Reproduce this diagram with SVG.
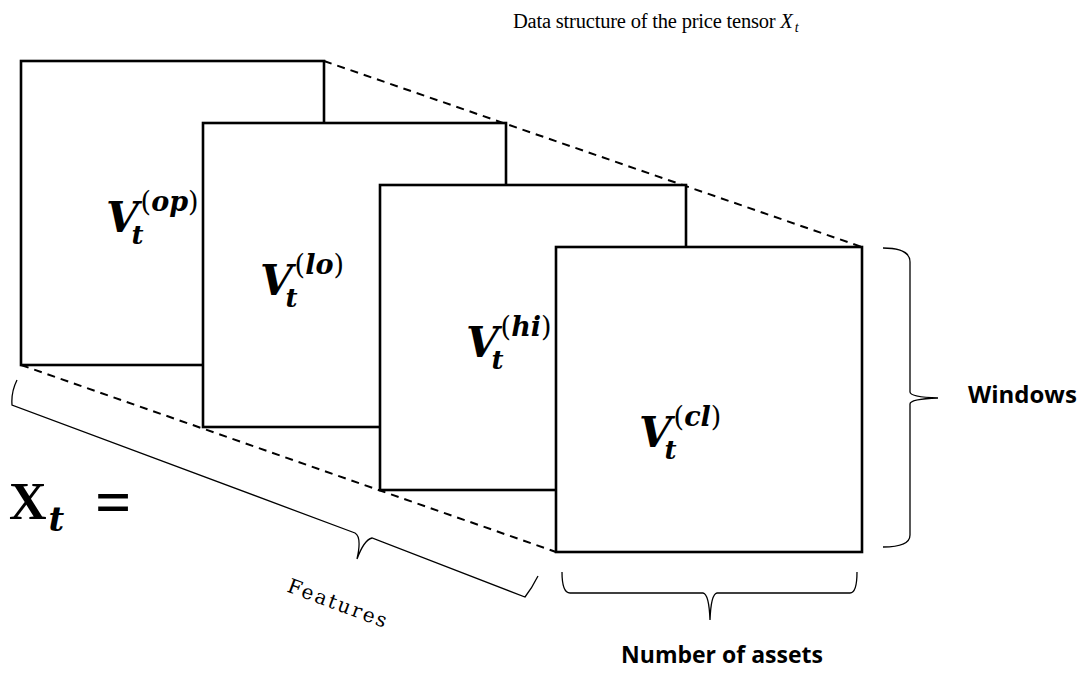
<svg xmlns="http://www.w3.org/2000/svg" width="1086" height="680" viewBox="0 0 1086 680">
<style>
.panel{fill:#fff;stroke:#000;stroke-width:2.6}
.dash{fill:none;stroke:#000;stroke-width:2;stroke-dasharray:8 6}
.brace{fill:none;stroke:#000;stroke-width:1.3}
.vm{font-family:"DejaVu Serif","Liberation Serif",serif;font-weight:bold;font-style:italic;fill:#000}
.par{font-style:normal;font-weight:normal}
.lbl{font-family:"Open Sans","Liberation Sans",sans-serif;font-weight:bold;fill:#000}
</style>
<rect width="1086" height="680" fill="#fff"/>
<text x="513" y="28" font-family="Liberation Serif, serif" font-size="20.5" letter-spacing="-0.2" fill="#000">Data structure of the price tensor <tspan font-style="italic">X</tspan><tspan font-style="italic" font-size="14" dx="2" dy="4">t</tspan></text>
<g id="connectors">
<line class="dash" x1="324" y1="61" x2="862" y2="247"/>
<line class="dash" x1="21" y1="61" x2="556" y2="247"/>
<line class="dash" x1="21" y1="365" x2="556" y2="552"/>
</g>
<g id="panel-op">
<rect class="panel" x="21" y="61" width="303" height="304"/>
<text class="vm" x="106" y="232" font-size="42">V<tspan font-size="26" dx="-7" dy="12">t</tspan><tspan font-size="27" dx="-3" dy="-33"><tspan class="par">(</tspan>op<tspan class="par">)</tspan></tspan></text>
</g>
<g id="panel-lo">
<rect class="panel" x="203" y="123" width="303" height="304"/>
<text class="vm" x="260" y="295" font-size="42">V<tspan font-size="26" dx="-7" dy="12">t</tspan><tspan font-size="27" dx="-3" dy="-33"><tspan class="par">(</tspan>lo<tspan class="par">)</tspan></tspan></text>
</g>
<g id="panel-hi">
<rect class="panel" x="380" y="185" width="306" height="305"/>
<text class="vm" x="466" y="357" font-size="42">V<tspan font-size="26" dx="-7" dy="12">t</tspan><tspan font-size="27" dx="-3" dy="-33"><tspan class="par">(</tspan>hi<tspan class="par">)</tspan></tspan></text>
</g>
<g id="panel-cl">
<rect class="panel" x="556" y="247" width="306" height="305"/>
<text class="vm" x="639" y="447" font-size="42">V<tspan font-size="26" dx="-7" dy="12">t</tspan><tspan font-size="27" dx="-3" dy="-33"><tspan class="par">(</tspan>cl<tspan class="par">)</tspan></tspan></text>
</g>
<g id="xt">
<text x="9" y="519" font-family="Liberation Serif, serif" font-weight="bold" font-size="52" fill="#000">X<tspan class="vm" font-family="DejaVu Serif, serif" font-size="34" dx="2" dy="12">t</tspan></text>
<text x="95" y="524" font-family="Liberation Serif, serif" font-weight="bold" font-size="64" fill="#000">=</text>
</g>
<g id="features">
<path class="brace" d="M17,380 Q11,392 12,405 L355,533 Q362,537 357,559 Q364,540 372,538 L525,597 Q532,588 538,576"/>
<text transform="translate(336,610) rotate(20.5)" text-anchor="middle" font-family="DejaVu Serif, serif" font-size="20" letter-spacing="2.2" fill="#000">Features</text>
</g>
<g id="assets">
<path class="brace" d="M562,572 Q562,593 570,593 L703,593 Q709,594 710,620 Q711,594 717,593 L850,593 Q857,593 857,572"/>
<text class="lbl" x="722" y="663" text-anchor="middle" font-size="23">Number of assets</text>
</g>
<g id="windows">
<path class="brace" d="M883,248 Q910,248 910,262 L910,392 Q910,397 938,398 Q910,399 910,404 L910,535 Q910,547 883,547"/>
<text class="lbl" x="968" y="403" font-size="24">Windows</text>
</g>
</svg>
